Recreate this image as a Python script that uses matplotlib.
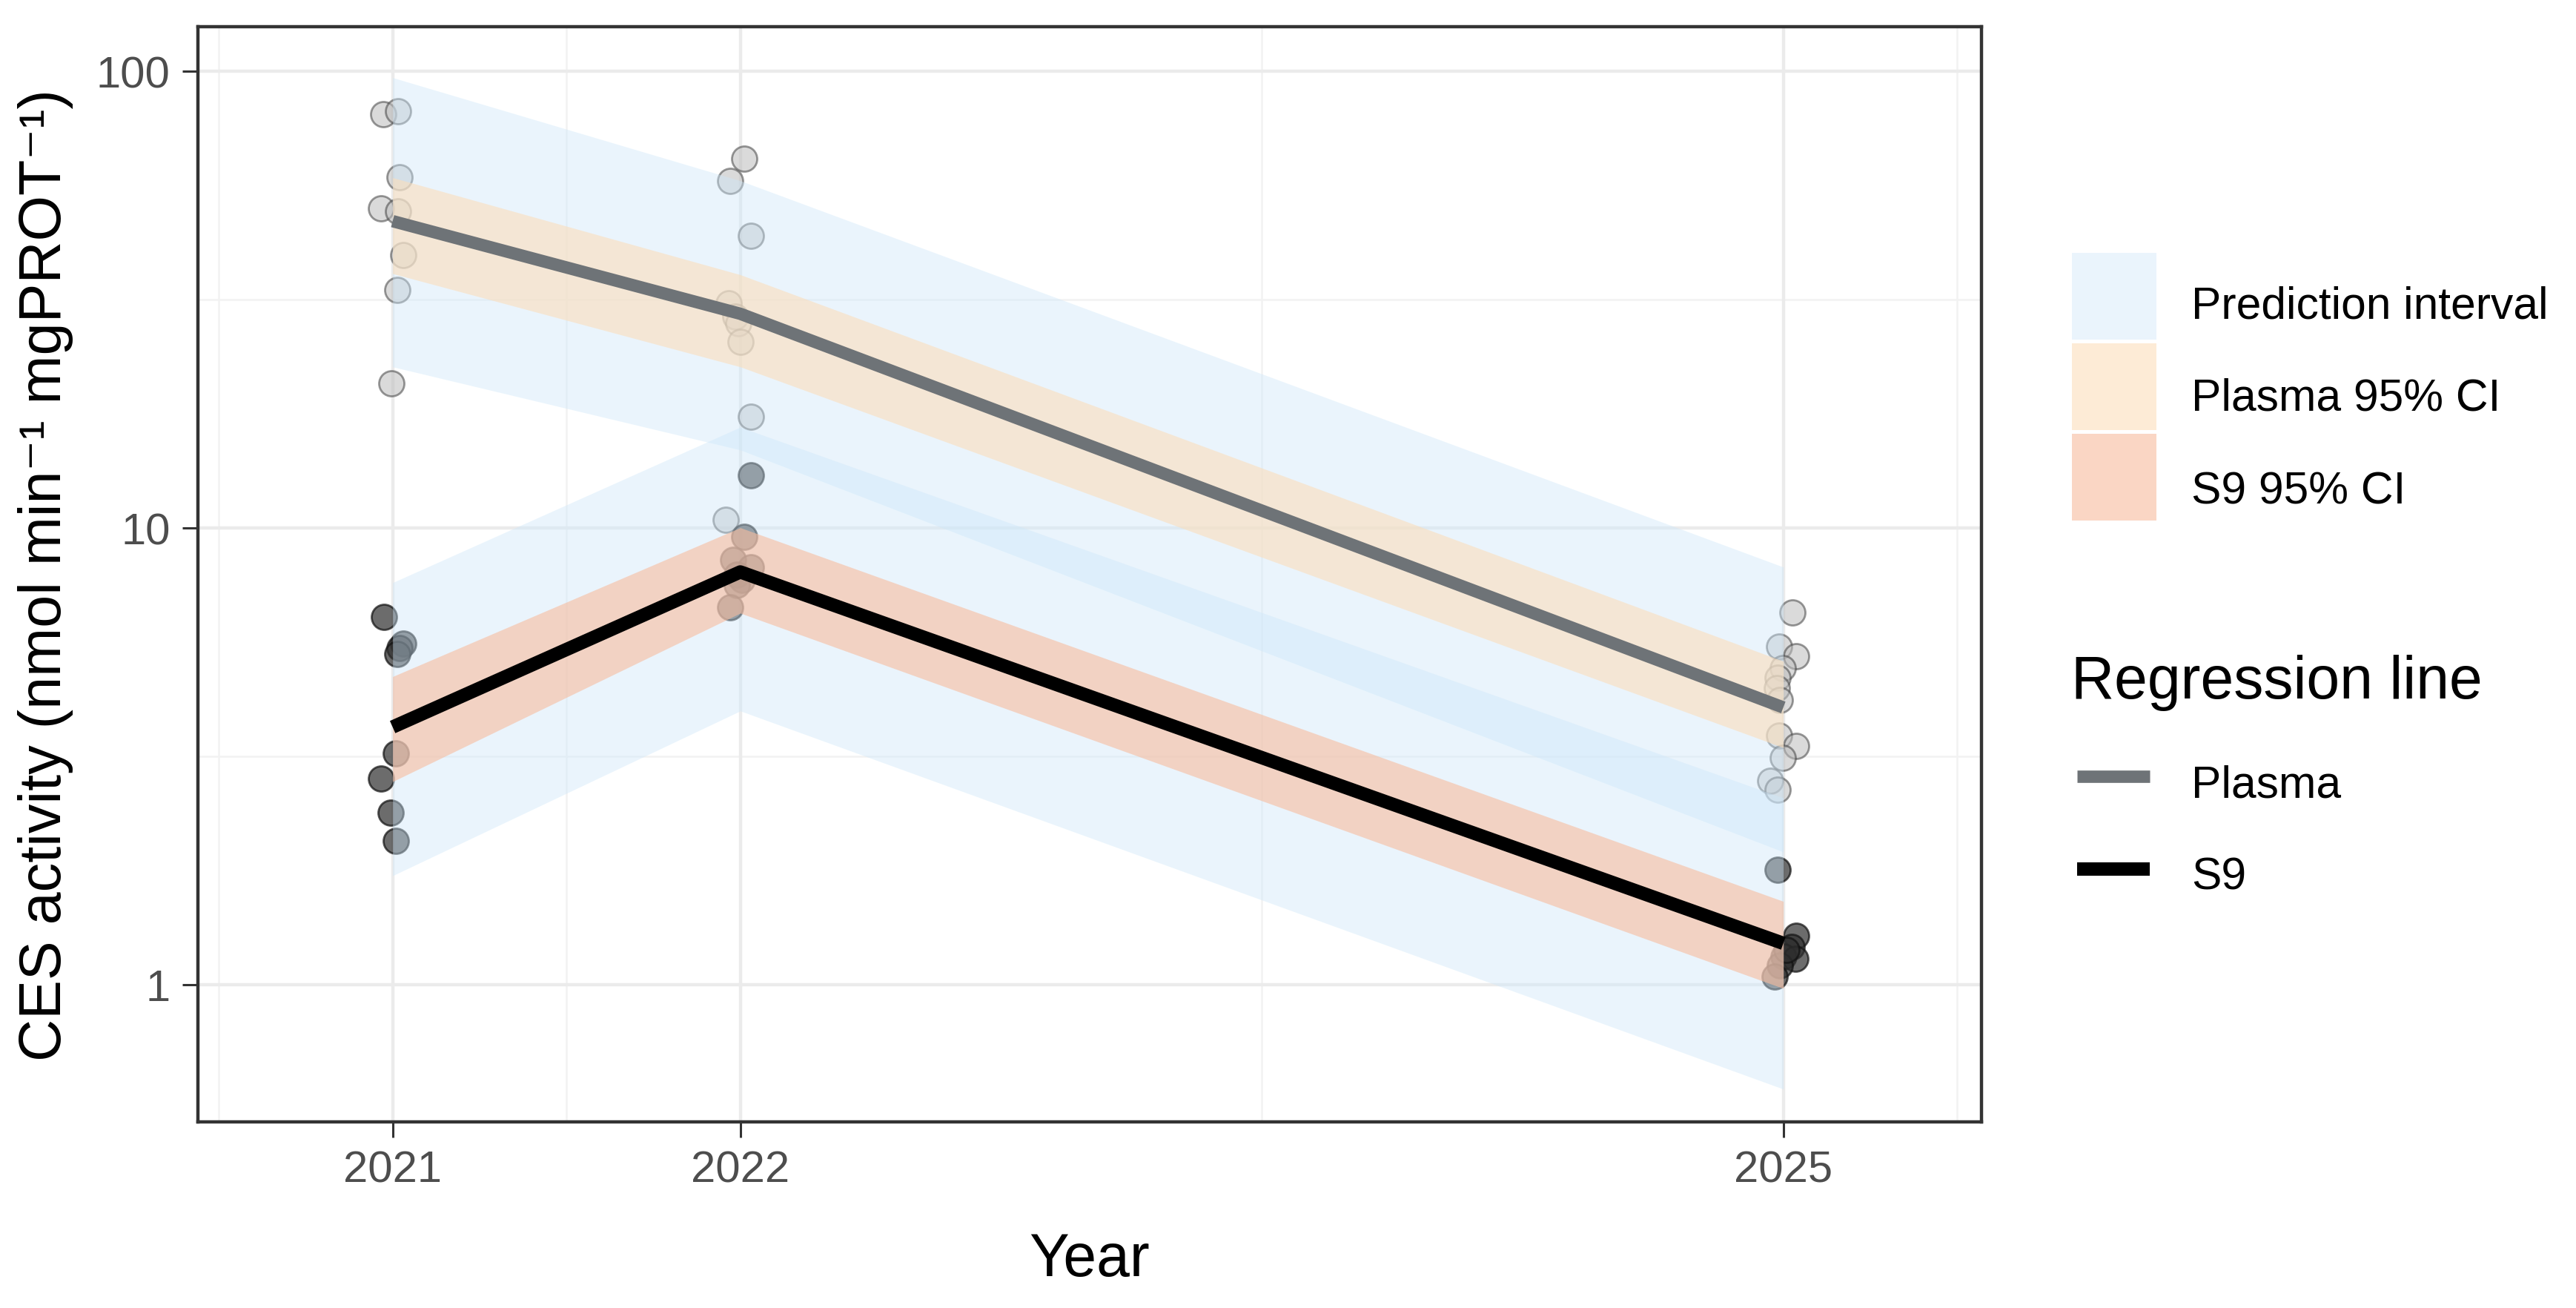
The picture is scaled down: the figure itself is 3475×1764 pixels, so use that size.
import matplotlib
matplotlib.use("Agg")
import matplotlib.pyplot as plt
from matplotlib.patches import Rectangle
from matplotlib.lines import Line2D
import numpy as np

plt.rcParams['font.family'] = ['Liberation Sans', 'DejaVu Sans']

# ---------------- data ----------------
years = [2021, 2022, 2025]
year_labels = ["2021", "2022", "2025"]

plasma_fit = [46.9, 29.4, 4.04]
plasma_ci_lo = [36.0, 22.5, 3.3]
plasma_ci_hi = [58.4, 35.8, 5.1]
plasma_pi_lo = [22.5, 14.8, 1.95]
plasma_pi_hi = [96.7, 57.5, 8.2]

s9_fit = [3.66, 8.0, 1.23]
s9_ci_lo = [2.78, 6.5, 0.98]
s9_ci_hi = [4.72, 10.0, 1.52]
s9_pi_lo = [1.73, 3.97, 0.59]
s9_pi_hi = [7.58, 16.6, 2.56]

plasma_pts_x = [2020.973, 2021.015, 2021.021, 2020.967, 2021.015, 2021.030, 2021.013, 2020.997,
                2022.012, 2021.970, 2022.031, 2021.966, 2021.985, 2021.995, 2022.000, 2022.031, 2021.959,
                2025.026, 2024.988, 2025.038, 2024.999, 2024.984, 2024.981, 2024.990, 2024.988,
                2025.038, 2024.999, 2024.963, 2024.984]
plasma_pts_y = [80.3, 81.5, 58.6, 50.1, 49.2, 39.5, 33.2, 20.7,
                64.3, 57.5, 43.5, 31.0, 29.0, 28.0, 25.5, 17.5, 10.4,
                6.52, 5.5, 5.24, 4.93, 4.7, 4.45, 4.2, 3.5,
                3.33, 3.13, 2.79, 2.67]

s9_pts_x = [2020.975, 2021.030, 2021.020, 2021.013, 2021.010, 2020.967, 2020.995, 2021.010,
            2022.031, 2022.012, 2021.980, 2022.030, 2021.990, 2022.005, 2021.990, 2021.970,
            2024.983, 2025.038, 2025.025, 2025.000, 2025.035, 2024.990, 2024.975, 2025.010]
s9_pts_y = [6.38, 5.58, 5.45, 5.28, 3.2, 2.82, 2.38, 2.06,
            13.0, 9.55, 8.5, 8.2, 7.9, 7.7, 7.5, 6.7,
            1.78, 1.28, 1.21, 1.15, 1.14, 1.10, 1.04, 1.19]

y_ticks = [1, 10, 100]
y_tick_labels = ["1", "10", "100"]

legend_fill_labels = ["Prediction interval", "Plasma 95% CI", "S9 95% CI"]
legend_line_title = "Regression line"
legend_line_labels = ["Plasma", "S9"]

# ---------------- style ----------------
W, H, DPI = 3475, 1765, 200
PI_COLOR, PI_ALPHA = '#CDE7FA', 0.42
PCI_COLOR, PCI_ALPHA = '#FCDEBB', 0.6
SCI_COLOR, SCI_ALPHA = '#F8BC9E', 0.6
PLASMA_LINE = '#6E7377'
S9_LINE = '#000000'

fig = plt.figure(figsize=(W / DPI, H / DPI), dpi=DPI)
fig.patch.set_facecolor('white')

px_l, px_r, px_t, px_b = 267, 2673, 37, 1514
ax = fig.add_axes([px_l / W, 1 - px_b / H, (px_r - px_l) / W, (px_b - px_t) / H])

ax.set_yscale('log')
ax.set_xlim(2020.44, 2025.57)
ax.set_ylim(0.50, 125)

# grid
for v in [2020.5, 2021.5, 2023.5, 2025.5]:
    ax.axvline(v, color='#F2F2F2', lw=0.9, zorder=0)
for v in [10 ** -0.5, 10 ** 0.5, 10 ** 1.5]:
    ax.axhline(v, color='#F2F2F2', lw=0.9, zorder=0)
for v in years:
    ax.axvline(v, color='#EBEBEB', lw=1.6, zorder=0)
for v in y_ticks:
    ax.axhline(v, color='#EBEBEB', lw=1.6, zorder=0)

# points (under ribbons)
ax.scatter(plasma_pts_x, plasma_pts_y, s=150, facecolor='#BDBDBD', edgecolor='#444444',
           linewidths=1.0, alpha=0.55, zorder=2)
ax.scatter(s9_pts_x, s9_pts_y, s=150, facecolor='#2E2E2E', edgecolor='#111111',
           linewidths=1.0, alpha=0.7, zorder=2)

# ribbons
ax.fill_between(years, plasma_pi_lo, plasma_pi_hi, color=PI_COLOR, alpha=PI_ALPHA, lw=0, zorder=3)
ax.fill_between(years, s9_pi_lo, s9_pi_hi, color=PI_COLOR, alpha=PI_ALPHA, lw=0, zorder=3)
ax.fill_between(years, plasma_ci_lo, plasma_ci_hi, color=PCI_COLOR, alpha=PCI_ALPHA, lw=0, zorder=4)
ax.fill_between(years, s9_ci_lo, s9_ci_hi, color=SCI_COLOR, alpha=SCI_ALPHA, lw=0, zorder=4)

# regression lines
ax.plot(years, plasma_fit, color=PLASMA_LINE, lw=6.0, solid_capstyle='butt', zorder=5)
ax.plot(years, s9_fit, color=S9_LINE, lw=6.5, solid_capstyle='butt', zorder=6)

# axes
ax.set_xticks(years)
ax.set_xticklabels(year_labels)
ax.set_yticks(y_ticks)
ax.set_yticklabels(y_tick_labels)
ax.yaxis.set_minor_locator(matplotlib.ticker.NullLocator())
ax.tick_params(axis='both', which='major', length=7.5, width=1.1, color='#333333',
               labelsize=21.5, labelcolor='#4D4D4D', pad=6)
for sp in ax.spines.values():
    sp.set_color('#333333')
    sp.set_linewidth(1.6)

ax.set_xlabel("Year", fontsize=29, color='black', labelpad=20)
ax.set_ylabel("CES activity (nmol min\u207b\u00b9 mgPROT\u207b\u00b9)", fontsize=28.5,
              color='black', labelpad=11)

# ---------------- legend (manual, figure pixel coords) ----------------
def fx(x):
    return x / W

def fy(y):
    return 1 - y / H

key_l, key_w, key_h = 2795, 114, 117
key_tops = [342, 464, 586]
fills = [(PI_COLOR, PI_ALPHA), (PCI_COLOR, PCI_ALPHA), (SCI_COLOR, SCI_ALPHA)]
baselines = [430, 554, 679]
for top, (c, a), lab, bl in zip(key_tops, fills, legend_fill_labels, baselines):
    fig.patches.append(Rectangle((fx(key_l), fy(top + key_h)), key_w / W, key_h / H,
                                 transform=fig.transFigure, facecolor=c, alpha=a, lw=0))
    fig.text(fx(2956), fy(bl), lab, fontsize=21.8, va='baseline', ha='left', color='black')

fig.text(fx(2794), fy(942), legend_line_title, fontsize=29, va='baseline', ha='left', color='black')
line_ys = [1048, 1173]
line_bl = [1076, 1200]
for ly, bl, c, lw, lab in zip(line_ys, line_bl, [PLASMA_LINE, S9_LINE], [6.0, 6.5], legend_line_labels):
    fig.add_artist(Line2D([fx(2802), fx(2900)], [fy(ly), fy(ly)], transform=fig.transFigure,
                          color=c, lw=lw, solid_capstyle='butt'))
    fig.text(fx(2956), fy(bl), lab, fontsize=21.8, va='baseline', ha='left', color='black')

fig.savefig("out.png", dpi=DPI, facecolor='white')
